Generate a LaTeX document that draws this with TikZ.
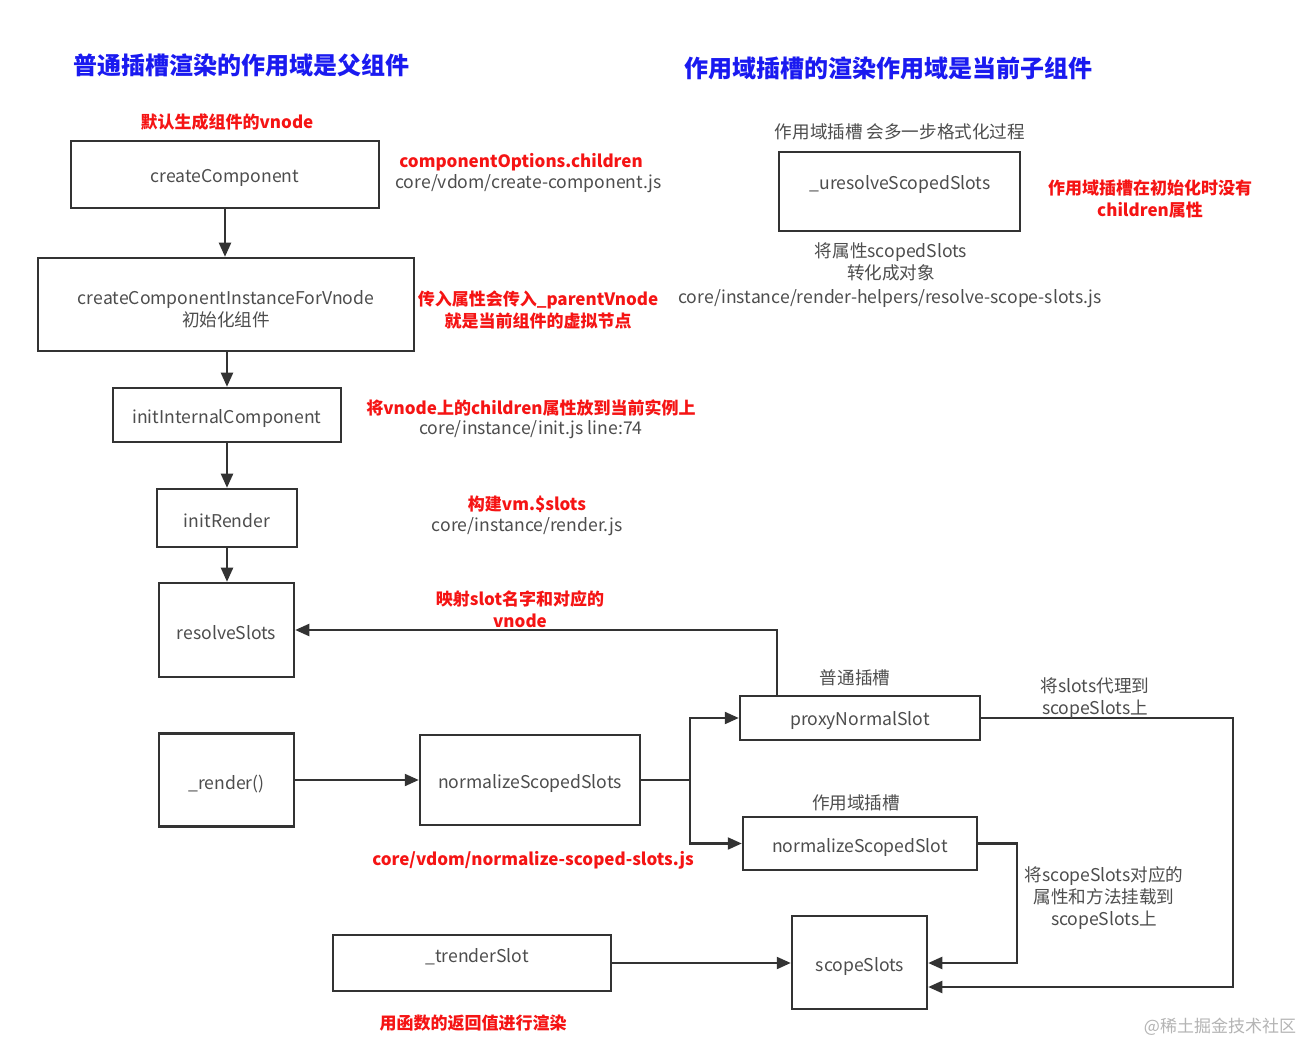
\documentclass[tikz,border=0pt]{standalone}
\usepackage{fontspec}
\setmainfont{Noto Sans CJK SC}
\usetikzlibrary{arrows.meta}
\definecolor{boxc}{HTML}{333333}
\definecolor{txt}{HTML}{4D4D4D}
\definecolor{redc}{HTML}{F51414}
\definecolor{bluec}{HTML}{1A1AF0}
\definecolor{wmc}{HTML}{B4B4B4}
\newcommand{\fs}{\fontsize{8.8pt}{11pt}\selectfont}
\newcommand{\fb}{\fontsize{8.5pt}{11pt}\selectfont\bfseries}
\tikzset{
  box/.style={draw=boxc, line width=1.25pt, inner sep=0pt},
  lbl/.style={text=txt, font=\fs, align=center, inner sep=0pt, yshift=-1pt},
  rednote/.style={text=redc, font=\fb, align=center, inner sep=0pt, yshift=-1pt},
  titlenote/.style={text=bluec, font=\fontsize{12pt}{14pt}\selectfont\bfseries, inner sep=0pt},
  arr/.style={draw=boxc, line width=1.1pt, -{Triangle[length=7pt,width=6pt]}},
  ln/.style={draw=boxc, line width=1.1pt}
}
% \bx{name}{cx}{cy}{w pt}{h pt}{text x}{text y}{text}
\newcommand{\bx}[8]{%
  \node[box, minimum width=#4pt, minimum height=#5pt] (#1) at (#2,#3) {};
  \node[lbl] (#1-t) at (#6,#7) {#8};
}
\begin{document}
\begin{tikzpicture}[x=0.5pt,y=-0.5pt]
\useasboundingbox[fill=white] (0,0) rectangle (1306,1042);
% titles
\node[titlenote] (t1) at (241,65) {普通插槽渲染的作用域是父组件};
\node[titlenote] (t2) at (888,68) {作用域插槽的渲染作用域是当前子组件};
% boxes
\bx{cc}{225}{174.5}{154}{33.5}{225}{176}{createComponent}
\bx{cci}{226}{304.5}{188}{46.5}{226}{307}{createComponentInstanceForVnode\\初始化组件}
\bx{iic}{227}{415}{114}{27}{227}{417}{initInternalComponent}
\bx{ir}{227}{518}{70}{29}{227}{519}{initRender}
\bx{rs}{226.5}{630}{67.5}{47}{226.5}{631}{resolveSlots}
\bx{rd}{226.5}{780}{67.5}{46.5}{226.5}{782}{\_render()}
\bx{nss}{530}{780}{110}{45}{530}{782}{normalizeScopedSlots}
\bx{pns}{860}{718}{120}{22}{860}{719}{proxyNormalSlot}
\bx{nsl}{860}{843.5}{117}{26.5}{860}{846}{normalizeScopedSlot}
\bx{trs}{472}{963}{139}{28}{477}{955}{\_trenderSlot}
\bx{ss}{859.5}{962.5}{67.5}{46.5}{860}{965}{scopeSlots}
\bx{urs}{899.5}{191.5}{120.5}{39.5}{900}{183}{\_uresolveScopedSlots}
% vertical flow
\draw[arr] (cc.south) -- (cc.south |- cci.north);
\draw[arr] (iic.north |- cci.south) -- (iic.north);
\draw[arr] (iic.south) -- (iic.south |- ir.north);
\draw[arr] (ir.south) -- (ir.south |- rs.north);
% proxyNormalSlot -> resolveSlots
\coordinate (c2) at (777,630);
\draw[arr] (c2 |- pns.north) -- (c2) -- (rs.east);
% render -> normalizeScopedSlots
\draw[arr] (rd.east) -- (nss.west);
% branch
\coordinate (j) at (690,780);
\draw[ln] (nss.east) -- (j);
\draw[arr] (j) |- (pns.west);
\draw[arr] (j) |- (nsl.west);
% proxyNormalSlot -> scopeSlots
\coordinate (c1) at (1233,987);
\draw[arr] (pns.east) -- (pns.east -| c1) -- (c1) -- (c1 -| ss.east);
% normalizeScopedSlot -> scopeSlots
\coordinate (c3) at (1017,963);
\draw[arr] (nsl.east) -- (nsl.east -| c3) -- (c3) -- (c3 -| ss.east);
% trenderSlot -> scopeSlots
\draw[arr] (trs.east) -- (trs.east -| ss.west);
% notes
\node[rednote] (r1) at (227,120) {默认生成组件的vnode};
\node[rednote, anchor=west] (r2) at (399,160) {componentOptions.children};
\node[lbl, anchor=west] (g2) at (395,182) {core/vdom/create-component.js};
\node[rednote] (r3) at (538,308) {传入属性会传入\_parentVnode\\就是当前组件的虚拟节点};
\node[lbl, anchor=west] (g3) at (678,297) {core/instance/render-helpers/resolve-scope-slots.js};
\node[rednote] (r4) at (531,406) {将vnode上的children属性放到当前实例上};
\node[lbl] (g4) at (531,428) {core/instance/init.js line:74};
\node[rednote] (r5) at (527,502) {构建vm.\$slots};
\node[lbl] (g5) at (527,525) {core/instance/render.js};
\node[rednote] (r6) at (520,607) {映射slot名字和对应的\\vnode};
\node[lbl] (g6) at (855,676) {普通插槽};
\node[lbl] (g7) at (1095,696) {将slots代理到\\scopeSlots上};
\node[lbl] (g8) at (856,801) {作用域插槽};
\node[rednote] (r7) at (533,858) {core/vdom/normalize-scoped-slots.js};
\node[lbl] (g9) at (1104,896) {将scopeSlots对应的\\属性和方法挂载到\\scopeSlots上};
\node[rednote] (r8) at (473,1021) {用函数的返回值进行渲染};
\node[lbl] (g10) at (900,130) {作用域插槽 会多一步格式化过程};
\node[rednote] (r9) at (1150,197) {作用域插槽在初始化时没有\\children属性};
\node[lbl] (g11) at (891,260) {将属性scopedSlots\\转化成对象};
\node[text=wmc, font=\fontsize{8.5pt}{10pt}\selectfont, inner sep=0pt, yshift=-1pt] (wm) at (1220,1025) {@稀土掘金技术社区};
\end{tikzpicture}
\end{document}
